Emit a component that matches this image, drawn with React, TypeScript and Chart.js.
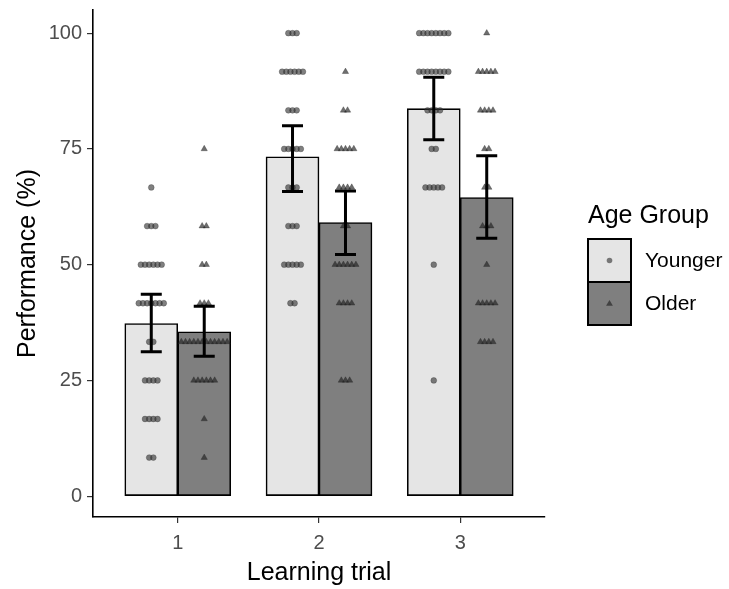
import React, { useEffect, useRef } from "react";
import { Chart, registerables } from "chart.js";

Chart.register(...registerables);

// ---- data ----
const trials = [1, 2, 3];
const trialLabels = ["1", "2", "3"];
const groupNames = ["Younger", "Older"];
const scoreLevels = [8.33, 16.67, 25, 33.33, 41.67, 50, 58.33, 66.67, 75, 83.33, 91.67, 100];
// number of participants at each score level, per trial
const youngerCounts = [
  [2, 4, 4, 2, 7, 6, 3, 1, 0, 0, 0, 0],
  [0, 0, 0, 0, 2, 5, 3, 3, 5, 3, 6, 3],
  [0, 0, 1, 0, 0, 1, 0, 5, 2, 4, 8, 8],
];
const olderCounts = [
  [1, 1, 6, 12, 3, 2, 2, 0, 1, 0, 0, 0],
  [0, 0, 3, 0, 4, 6, 2, 4, 5, 2, 1, 0],
  [0, 0, 0, 4, 5, 1, 3, 2, 2, 4, 5, 1],
];
const youngerMean = [37.3, 73.3, 83.7];
const olderMean = [35.5, 59.1, 64.5];
const youngerErrLow = [31.2, 65.8, 77.0];
const youngerErrHigh = [43.6, 80.0, 90.5];
const olderErrLow = [30.2, 52.2, 55.7];
const olderErrHigh = [41.0, 65.9, 73.5];
const yTicks = [0, 25, 50, 75, 100];

// ---- style ----
const FONT = "'Liberation Sans', Arial, sans-serif";
const DODGE = 0.1875;
const DOT_PITCH = 0.0295;
const YOUNG_FILL = "#e5e5e5";
const OLD_FILL = "#7f7f7f";
const CIRCLE_COL = "rgba(50,50,50,0.62)";
const TRI_COL = "rgba(35,35,35,0.66)";

function dotPoints(counts: number[][], offset: number) {
  const pts: { x: number; y: number }[] = [];
  counts.forEach((row, g) =>
    row.forEach((n, k) => {
      for (let i = 0; i < n; i++) {
        pts.push({ x: trials[g] + offset + (i - (n - 1) / 2) * DOT_PITCH, y: scoreLevels[k] });
      }
    })
  );
  return pts;
}

const errorBarPlugin = {
  id: "errorBars",
  afterDatasetsDraw(chart: any) {
    const { ctx, scales } = chart;
    const xs = scales.x;
    const ys = scales.y;
    ctx.save();
    ctx.strokeStyle = "#000";
    ctx.lineWidth = 3;
    const sets = [
      { off: -DODGE, lo: youngerErrLow, hi: youngerErrHigh },
      { off: DODGE, lo: olderErrLow, hi: olderErrHigh },
    ];
    trials.forEach((t, i) => {
      sets.forEach((s) => {
        const x = xs.getPixelForValue(t + s.off);
        const y1 = ys.getPixelForValue(s.lo[i]);
        const y2 = ys.getPixelForValue(s.hi[i]);
        const half = 10.5;
        ctx.beginPath();
        ctx.moveTo(x, y1);
        ctx.lineTo(x, y2);
        ctx.moveTo(x - half, y1);
        ctx.lineTo(x + half, y1);
        ctx.moveTo(x - half, y2);
        ctx.lineTo(x + half, y2);
        ctx.stroke();
      });
    });
    ctx.restore();
  },
};

const legendPlugin = {
  id: "customLegend",
  afterDraw(chart: any) {
    const { ctx } = chart;
    const left = chart.chartArea.right + 43;
    ctx.save();
    ctx.fillStyle = "#000";
    ctx.font = `25px ${FONT}`;
    ctx.textBaseline = "alphabetic";
    ctx.textAlign = "left";
    ctx.fillText("Age Group", left, 223);
    const box = 43;
    const top0 = 239;
    const fills = [YOUNG_FILL, OLD_FILL];
    groupNames.forEach((name, i) => {
      const top = top0 + i * box;
      ctx.fillStyle = fills[i];
      ctx.fillRect(left, top, box, box);
      ctx.strokeStyle = "#000";
      ctx.lineWidth = 2;
      ctx.strokeRect(left, top, box, box);
      const cx = left + box / 2;
      const cy = top + box / 2;
      if (i === 0) {
        ctx.fillStyle = CIRCLE_COL;
        ctx.beginPath();
        ctx.arc(cx, cy, 2.8, 0, Math.PI * 2);
        ctx.fill();
      } else {
        ctx.fillStyle = TRI_COL;
        const r = 3.6;
        ctx.beginPath();
        ctx.moveTo(cx, cy - r);
        ctx.lineTo(cx + r * 0.95, cy + r * 0.6);
        ctx.lineTo(cx - r * 0.95, cy + r * 0.6);
        ctx.closePath();
        ctx.fill();
      }
      ctx.fillStyle = "#000";
      ctx.font = `21px ${FONT}`;
      ctx.textBaseline = "middle";
      ctx.fillText(name, left + box + 14, cy + 1);
    });
    ctx.restore();
  },
};

export default function App() {
  const ref = useRef<HTMLCanvasElement | null>(null);
  useEffect(() => {
    if (!ref.current) return;
    const chart = new Chart(ref.current, {
      type: "bar",
      data: {
        datasets: [
          {
            type: "scatter",
            label: "Younger points",
            data: dotPoints(youngerCounts, -DODGE),
            pointStyle: "circle",
            pointRadius: 2.9,
            backgroundColor: CIRCLE_COL,
            borderColor: "rgba(40,40,40,0.5)",
            borderWidth: 0.6,
            order: 1,
          } as any,
          {
            type: "scatter",
            label: "Older points",
            data: dotPoints(olderCounts, DODGE),
            pointStyle: "triangle",
            pointRadius: 3.6,
            backgroundColor: TRI_COL,
            borderColor: TRI_COL,
            borderWidth: 0.5,
            order: 1,
          } as any,
          {
            type: "bar",
            label: groupNames[0],
            data: trials.map((t, i) => ({ x: t - DODGE, y: youngerMean[i] })),
            backgroundColor: YOUNG_FILL,
            borderColor: "#000",
            borderWidth: 1.6,
            borderSkipped: false,
            barThickness: 53,
            grouped: false,
            order: 2,
          } as any,
          {
            type: "bar",
            label: groupNames[1],
            data: trials.map((t, i) => ({ x: t + DODGE, y: olderMean[i] })),
            backgroundColor: OLD_FILL,
            borderColor: "#000",
            borderWidth: 1.6,
            borderSkipped: false,
            barThickness: 53,
            grouped: false,
            order: 2,
          } as any,
        ],
      },
      options: {
        animation: false,
        responsive: false,
        devicePixelRatio: 1,
        layout: { padding: { left: 0, right: 184, top: 10, bottom: 0 } },
        plugins: { legend: { display: false }, tooltip: { enabled: false } },
        scales: {
          x: {
            type: "linear",
            offset: false,
            min: 0.4,
            max: 3.6,
            afterBuildTicks: (s: any) => {
              s.ticks = trials.map((v) => ({ value: v }));
            },
            afterFit: (s: any) => {
              s.height = 72;
              s.paddingLeft = 0;
              s.paddingRight = 0;
            },
            ticks: {
              font: { size: 20, family: FONT },
              color: "#4d4d4d",
              padding: 8,
              callback: (v: any) => {
                const i = trials.indexOf(Number(v));
                return i >= 0 ? trialLabels[i] : "";
              },
            },
            grid: { offset: false, drawOnChartArea: false, drawTicks: true, tickLength: 6, color: "#333", lineWidth: 1.2 },
            border: { display: true, color: "#000", width: 1.6 },
            title: {
              display: true,
              text: "Learning trial",
              font: { size: 25, family: FONT },
              color: "#000",
              padding: { top: 0, bottom: 1 },
            },
          },
          y: {
            type: "linear",
            min: -4.5,
            max: 105,
            afterBuildTicks: (s: any) => {
              s.ticks = yTicks.map((v) => ({ value: v }));
            },
            afterFit: (s: any) => {
              s.width = 93;
              s.paddingTop = 0;
              s.paddingBottom = 0;
            },
            ticks: {
              font: { size: 20, family: FONT },
              color: "#4d4d4d",
              padding: 5,
            },
            grid: { drawOnChartArea: false, drawTicks: true, tickLength: 6, color: "#333", lineWidth: 1.2 },
            border: { display: true, color: "#000", width: 1.6 },
            title: {
              display: true,
              text: "Performance (%)",
              font: { size: 25, family: FONT },
              color: "#000",
              padding: { top: 13, bottom: 0 },
            },
          },
        },
      } as any,
      plugins: [errorBarPlugin, legendPlugin],
    });
    return () => chart.destroy();
  }, []);

  return (
    <div style={{ position: "fixed", left: 0, top: 0, width: 729, height: 589, background: "#fff" }}>
      <canvas ref={ref} width={729} height={589} />
    </div>
  );
}
